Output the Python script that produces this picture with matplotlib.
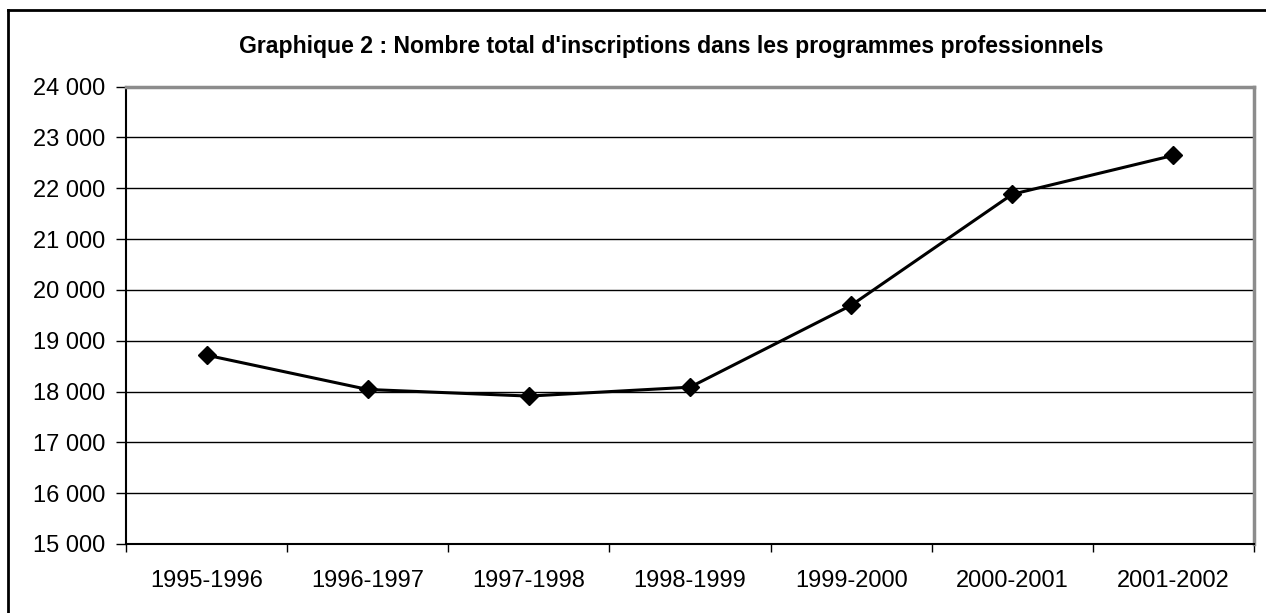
import matplotlib
matplotlib.use('Agg')
import matplotlib.pyplot as plt
from matplotlib.lines import Line2D
from matplotlib.ticker import FuncFormatter

plt.rcParams['font.family'] = ['Liberation Sans', 'DejaVu Sans']

## data
years = ['1995-1996', '1996-1997', '1997-1998', '1998-1999',
         '1999-2000', '2000-2001', '2001-2002']
inscriptions = [18715, 18040, 17910, 18085, 19695, 21880, 22645]

fig = plt.figure(figsize=(12.66, 6.13), dpi=100)
ax = fig.add_axes([126/1266, 1 - 544/613, (1254-126)/1266, (544-86.5)/613])

x = list(range(len(years)))
ax.plot(x, inscriptions, color='black', lw=2.2, marker='D', ms=9,
        markerfacecolor='black', markeredgecolor='black', zorder=3)

ax.set_xlim(-0.5, len(years) - 0.5)
ax.set_ylim(15000, 24000)
ax.set_yticks(range(15000, 24001, 1000))
ax.yaxis.set_major_formatter(FuncFormatter(lambda v, p: f'{int(v):,}'.replace(',', ' ')))
ax.set_xticks(x)
ax.set_xticklabels(years)
ax.set_xticks([i - 0.5 for i in range(len(years) + 1)], minor=True)

ax.grid(axis='y', color='black', lw=1)
ax.set_axisbelow(True)
ax.tick_params(axis='y', length=7, width=1, pad=8, labelsize=17)
ax.tick_params(axis='x', which='major', length=0, pad=19, labelsize=17)
ax.tick_params(axis='x', which='minor', length=6, width=1)

for side in ['left', 'bottom']:
    ax.spines[side].set_color('black')
    ax.spines[side].set_linewidth(1.5)
for side in ['top', 'right']:
    ax.spines[side].set_color('#8c8c8c')
    ax.spines[side].set_linewidth(2.5)

fig.text(671/1266, 1 - 47/613, "Graphique 2 : Nombre total d'inscriptions dans les programmes professionnels",
         ha='center', va='center', fontsize=16.6, fontweight='bold')

## outer frame (cut by the image edges on the right and bottom)
fig.add_artist(Line2D([8/1266, 1], [1 - 10/613, 1 - 10/613], color='black', lw=2))
fig.add_artist(Line2D([8/1266, 8/1266], [0, 1 - 10/613], color='black', lw=2))

fig.savefig('out.png', dpi=100)
